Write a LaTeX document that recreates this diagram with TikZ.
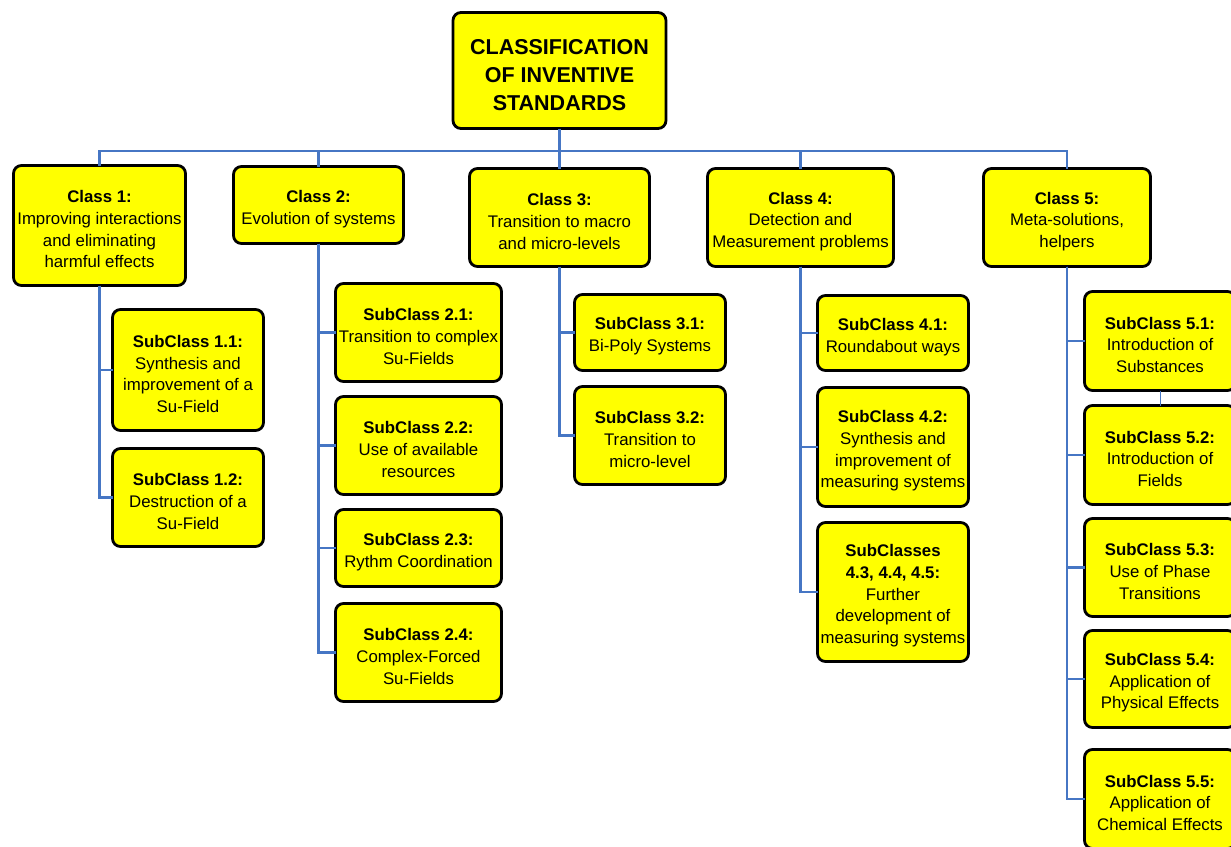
\documentclass[tikz,border=0pt]{standalone}
\usepackage{fontspec}
\setmainfont{Liberation Sans}
\definecolor{linkblue}{RGB}{70,118,196}
\definecolor{boxyellow}{RGB}{255,255,0}
% bold heading line with a tall strut so the block sits a little low in its box
\newcommand\headline[1]{\rule{0pt}{20pt}\textbf{#1}}
\tikzset{
  box/.style={draw=black, line width=2.8pt, fill=boxyellow, rounded corners=8pt,
    align=center, inner sep=0pt, outer sep=0pt,
    font=\fontsize{16.8}{21.7}\selectfont},
  titlebox/.style={box, font=\fontsize{21.5}{28.3}\selectfont\bfseries},
  conn/.style={draw=linkblue, line width=2.4pt},
  thinconn/.style={draw=linkblue, line width=1pt},
  sz/.style 2 args={minimum width=#1pt, minimum height=#2pt}
}
\begin{document}
\begin{tikzpicture}[x=1pt, y=-1pt]
\useasboundingbox (0,0) rectangle (1231,846);
\clip (0,0) rectangle (1231,846);

% root
\node[titlebox, sz={213}{116}] (top) at (559.5,70.5)
  {\rule{0pt}{24pt}CLASSIFICATION\\OF INVENTIVE\\STANDARDS};

% classes
\node[box, sz={172}{120}] (c1) at (99.5,225.5)
  {\headline{Class 1:}\\Improving interactions\\and eliminating\\harmful effects};
\node[box, sz={170}{77}] (c2) at (318.5,205)
  {\headline{Class 2:}\\Evolution of systems};
\node[box, sz={180}{98}] (c3) at (559.5,217.5)
  {\headline{Class 3:}\\Transition to macro\\and micro-levels};
\node[box, sz={186}{98}] (c4) at (800.5,217.5)
  {\headline{Class 4:}\\Detection and\\Measurement problems};
\node[box, sz={167}{98}] (c5) at (1067,217.5)
  {\headline{Class 5:}\\Meta-solutions,\\helpers};

% class 1 subclasses
\node[box, sz={151}{121}] (s11) at (188,370)
  {\headline{SubClass 1.1:}\\Synthesis and\\improvement of a\\Su-Field};
\node[box, sz={151}{98}] (s12) at (188,497.5)
  {\headline{SubClass 1.2:}\\Destruction of a\\Su-Field};

% class 2 subclasses
\node[box, sz={166}{98}] (s21) at (418.5,332.5)
  {\headline{SubClass 2.1:}\\Transition to complex\\Su-Fields};
\node[box, sz={166}{98}] (s22) at (418.5,445.5)
  {\headline{SubClass 2.2:}\\Use of available\\resources};
\node[box, sz={166}{77}] (s23) at (418.5,548)
  {\headline{SubClass 2.3:}\\Rythm Coordination};
\node[box, sz={166}{98}] (s24) at (418.5,652.5)
  {\headline{SubClass 2.4:}\\Complex-Forced\\Su-Fields};

% class 3 subclasses
\node[box, sz={151}{76}] (s31) at (650,332.5)
  {\headline{SubClass 3.1:}\\Bi-Poly Systems};
\node[box, sz={151}{98}] (s32) at (650,435.5)
  {\headline{SubClass 3.2:}\\Transition to\\micro-level};

% class 4 subclasses
\node[box, sz={151}{75}] (s41) at (893,333)
  {\headline{SubClass 4.1:}\\Roundabout ways};
\node[box, sz={151}{119}] (s42) at (893,447)
  {\headline{SubClass 4.2:}\\Synthesis and\\improvement of\\measuring systems};
\node[box, sz={151}{139}] (s43) at (893,592)
  {\headline{SubClasses}\\\textbf{4.3, 4.4, 4.5:}\\Further\\development of\\measuring systems};

% class 5 subclasses
\node[box, sz={151}{99}] (s51) at (1160,341)
  {\headline{SubClass 5.1:}\\Introduction of\\Substances};
\node[box, sz={151}{99}] (s52) at (1160,455)
  {\headline{SubClass 5.2:}\\Introduction of\\Fields};
\node[box, sz={151}{98}] (s53) at (1160,567.5)
  {\headline{SubClass 5.3:}\\Use of Phase\\Transitions};
\node[box, sz={151}{97}] (s54) at (1160,679)
  {\headline{SubClass 5.4:}\\Application of\\Physical Effects};
\node[box, sz={151}{99}] (s55) at (1160,799)
  {\headline{SubClass 5.5:}\\Application of\\Chemical Effects};

% bus from the root to the classes
\coordinate (bus) at (559.5,151);
\draw[conn] (top.south) -- (c3.north);
\draw[conn] (c1.north) |- (bus) -| (c5.north);
\draw[conn] (c2.north) |- (bus);
\draw[conn] (c4.north) |- (bus);

% spines from each class to its subclasses
\draw[conn] (c1.south) |- (s11.west);
\draw[conn] (c1.south) |- (s12.west);
\foreach \s in {s21,s22,s23,s24} \draw[conn] (c2.south) |- (\s.west);
\foreach \s in {s31,s32} \draw[conn] (c3.south) |- (\s.west);
\foreach \s in {s41,s42,s43} \draw[conn] (c4.south) |- (\s.west);
\foreach \s in {s51,s52,s53,s54,s55} \draw[conn] (c5.south) |- (\s.west);
\draw[thinconn] (s51.south) -- (s52.north);
\end{tikzpicture}
\end{document}
